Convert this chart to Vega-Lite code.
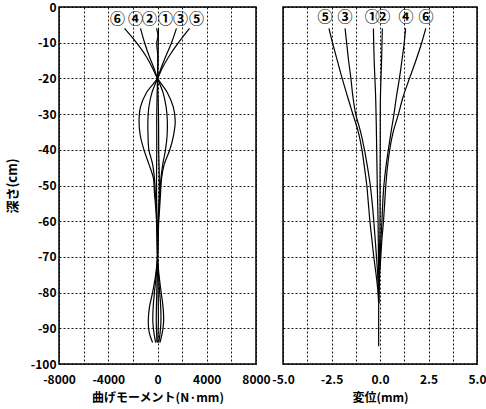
{
"$schema": "https://vega.github.io/schema/vega-lite/v6.json",
"padding": {"left": 5, "top": 0, "right": 0, "bottom": 0},
"background": "white",
"spacing": 27,
"bounds": "flush",
"config": {
  "view": {"stroke": "black", "strokeWidth": 1.5},
  "axis": {"labelFont": "Noto Sans CJK JP", "labelFontWeight": "bold", "labelFontSize": 12, "labelColor": "black",
           "titleFont": "Noto Sans CJK JP", "titleFontWeight": "bold", "titleFontSize": 12, "titleColor": "black",
           "gridColor": "black", "gridDash": [2, 2], "gridWidth": 1, "gridOpacity": 0.9,
           "ticks": false, "domain": false, "labelFlush": false, "labelOverlap": false, "labelBound": false}
},
"datasets": {
  "moment": [
    {"s":"⑥","d":-6,"v":-2680},{"s":"⑥","d":-10,"v":-1710},{"s":"⑥","d":-14,"v":-890},{"s":"⑥","d":-17,"v":-420},{"s":"⑥","d":-20,"v":0},{"s":"⑥","d":-24,"v":800},{"s":"⑥","d":-28,"v":1280},{"s":"⑥","d":-32,"v":1440},{"s":"⑥","d":-36,"v":1300},{"s":"⑥","d":-40,"v":1000},{"s":"⑥","d":-44,"v":550},{"s":"⑥","d":-48,"v":330},{"s":"⑥","d":-52,"v":250},{"s":"⑥","d":-56,"v":180},{"s":"⑥","d":-60,"v":100},{"s":"⑥","d":-65,"v":50},{"s":"⑥","d":-70,"v":0},{"s":"⑥","d":-75,"v":-150},{"s":"⑥","d":-80,"v":-400},{"s":"⑥","d":-84,"v":-650},{"s":"⑥","d":-88,"v":-750},{"s":"⑥","d":-91,"v":-680},{"s":"⑥","d":-94,"v":-400},
    {"s":"⑤","d":-6,"v":2600},{"s":"⑤","d":-10,"v":1700},{"s":"⑤","d":-14,"v":900},{"s":"⑤","d":-17,"v":400},{"s":"⑤","d":-20,"v":0},{"s":"⑤","d":-24,"v":-900},{"s":"⑤","d":-28,"v":-1380},{"s":"⑤","d":-32,"v":-1500},{"s":"⑤","d":-36,"v":-1400},{"s":"⑤","d":-40,"v":-1100},{"s":"⑤","d":-44,"v":-700},{"s":"⑤","d":-48,"v":-330},{"s":"⑤","d":-52,"v":-250},{"s":"⑤","d":-56,"v":-150},{"s":"⑤","d":-60,"v":-80},{"s":"⑤","d":-65,"v":-30},{"s":"⑤","d":-70,"v":0},{"s":"⑤","d":-75,"v":120},{"s":"⑤","d":-80,"v":300},{"s":"⑤","d":-84,"v":450},{"s":"⑤","d":-88,"v":500},{"s":"⑤","d":-91,"v":400},{"s":"⑤","d":-94,"v":200},
    {"s":"④","d":-6,"v":-1380},{"s":"④","d":-10,"v":-1050},{"s":"④","d":-14,"v":-650},{"s":"④","d":-17,"v":-300},{"s":"④","d":-20,"v":0},{"s":"④","d":-24,"v":450},{"s":"④","d":-28,"v":700},{"s":"④","d":-32,"v":800},{"s":"④","d":-36,"v":780},{"s":"④","d":-40,"v":650},{"s":"④","d":-44,"v":430},{"s":"④","d":-48,"v":280},{"s":"④","d":-52,"v":200},{"s":"④","d":-56,"v":120},{"s":"④","d":-60,"v":60},{"s":"④","d":-65,"v":20},{"s":"④","d":-70,"v":0},{"s":"④","d":-75,"v":-100},{"s":"④","d":-80,"v":-250},{"s":"④","d":-84,"v":-350},{"s":"④","d":-88,"v":-380},{"s":"④","d":-91,"v":-300},{"s":"④","d":-94,"v":-150},
    {"s":"③","d":-6,"v":1540},{"s":"③","d":-10,"v":1140},{"s":"③","d":-14,"v":650},{"s":"③","d":-17,"v":300},{"s":"③","d":-20,"v":0},{"s":"③","d":-24,"v":-450},{"s":"③","d":-28,"v":-700},{"s":"③","d":-32,"v":-780},{"s":"③","d":-36,"v":-770},{"s":"③","d":-40,"v":-700},{"s":"③","d":-44,"v":-400},{"s":"③","d":-48,"v":-250},{"s":"③","d":-52,"v":-180},{"s":"③","d":-56,"v":-100},{"s":"③","d":-60,"v":-50},{"s":"③","d":-65,"v":-20},{"s":"③","d":-70,"v":0},{"s":"③","d":-75,"v":80},{"s":"③","d":-80,"v":180},{"s":"③","d":-84,"v":260},{"s":"③","d":-88,"v":280},{"s":"③","d":-91,"v":220},{"s":"③","d":-94,"v":100},
    {"s":"②","d":-6,"v":-80},{"s":"②","d":-8,"v":40},{"s":"②","d":-10,"v":-60},{"s":"②","d":-14,"v":30},{"s":"②","d":-20,"v":0},{"s":"②","d":-30,"v":80},{"s":"②","d":-40,"v":100},{"s":"②","d":-50,"v":150},{"s":"②","d":-60,"v":80},{"s":"②","d":-70,"v":0},{"s":"②","d":-80,"v":-60},{"s":"②","d":-88,"v":-100},{"s":"②","d":-94,"v":-40},
    {"s":"①","d":-6,"v":80},{"s":"①","d":-10,"v":60},{"s":"①","d":-20,"v":0},{"s":"①","d":-30,"v":-60},{"s":"①","d":-40,"v":-60},{"s":"①","d":-50,"v":-80},{"s":"①","d":-60,"v":-40},{"s":"①","d":-70,"v":0},{"s":"①","d":-80,"v":50},{"s":"①","d":-88,"v":70},{"s":"①","d":-94,"v":20}
  ],
  "mlab": [
    {"s":"⑥","d":-3.4,"v":-3250},{"s":"④","d":-3.4,"v":-1790},{"s":"②","d":-3.4,"v":-650},{"s":"①","d":-3.4,"v":650},{"s":"③","d":-3.4,"v":1870},{"s":"⑤","d":-3.4,"v":3170}
  ],
  "disp": [
    {"s":"⑤","d":-6,"v":-2.63},{"s":"⑤","d":-10,"v":-2.45},{"s":"⑤","d":-15,"v":-2.2},{"s":"⑤","d":-20,"v":-1.95},{"s":"⑤","d":-25,"v":-1.68},{"s":"⑤","d":-30,"v":-1.4},{"s":"⑤","d":-35,"v":-1.12},{"s":"⑤","d":-40,"v":-0.93},{"s":"⑤","d":-45,"v":-0.8},{"s":"⑤","d":-50,"v":-0.68},{"s":"⑤","d":-55,"v":-0.6},{"s":"⑤","d":-60,"v":-0.52},{"s":"⑤","d":-65,"v":-0.42},{"s":"⑤","d":-70,"v":-0.32},{"s":"⑤","d":-75,"v":-0.2},{"s":"⑤","d":-80,"v":-0.1},{"s":"⑤","d":-83,"v":-0.07},
    {"s":"③","d":-6,"v":-1.8},{"s":"③","d":-10,"v":-1.72},{"s":"③","d":-15,"v":-1.62},{"s":"③","d":-20,"v":-1.5},{"s":"③","d":-25,"v":-1.4},{"s":"③","d":-30,"v":-1.25},{"s":"③","d":-35,"v":-1.0},{"s":"③","d":-40,"v":-0.8},{"s":"③","d":-45,"v":-0.64},{"s":"③","d":-50,"v":-0.5},{"s":"③","d":-55,"v":-0.4},{"s":"③","d":-60,"v":-0.32},{"s":"③","d":-65,"v":-0.25},{"s":"③","d":-70,"v":-0.18},{"s":"③","d":-75,"v":-0.12},{"s":"③","d":-80,"v":-0.08},{"s":"③","d":-83,"v":-0.07},
    {"s":"①","d":-6,"v":-0.34},{"s":"①","d":-15,"v":-0.3},{"s":"①","d":-26,"v":-0.22},{"s":"①","d":-40,"v":-0.17},{"s":"①","d":-50,"v":-0.14},{"s":"①","d":-60,"v":-0.1},{"s":"①","d":-70,"v":-0.08},{"s":"①","d":-83,"v":-0.07},
    {"s":"②","d":-6,"v":0.12},{"s":"②","d":-15,"v":0.08},{"s":"②","d":-26,"v":0.02},{"s":"②","d":-40,"v":0.01},{"s":"②","d":-50,"v":0.0},{"s":"②","d":-60,"v":0.0},{"s":"②","d":-70,"v":-0.03},{"s":"②","d":-83,"v":-0.07},
    {"s":"④","d":-6,"v":1.32},{"s":"④","d":-10,"v":1.25},{"s":"④","d":-15,"v":1.13},{"s":"④","d":-20,"v":1.0},{"s":"④","d":-25,"v":0.85},{"s":"④","d":-30,"v":0.72},{"s":"④","d":-35,"v":0.57},{"s":"④","d":-40,"v":0.43},{"s":"④","d":-45,"v":0.3},{"s":"④","d":-50,"v":0.2},{"s":"④","d":-55,"v":0.14},{"s":"④","d":-60,"v":0.1},{"s":"④","d":-65,"v":0.05},{"s":"④","d":-70,"v":0.0},{"s":"④","d":-75,"v":-0.04},{"s":"④","d":-80,"v":-0.06},{"s":"④","d":-83,"v":-0.07},
    {"s":"⑥","d":-6,"v":2.36},{"s":"⑥","d":-10,"v":2.15},{"s":"⑥","d":-15,"v":1.85},{"s":"⑥","d":-20,"v":1.52},{"s":"⑥","d":-25,"v":1.2},{"s":"⑥","d":-30,"v":0.95},{"s":"⑥","d":-35,"v":0.68},{"s":"⑥","d":-40,"v":0.5},{"s":"⑥","d":-45,"v":0.38},{"s":"⑥","d":-50,"v":0.3},{"s":"⑥","d":-55,"v":0.24},{"s":"⑥","d":-60,"v":0.18},{"s":"⑥","d":-65,"v":0.1},{"s":"⑥","d":-70,"v":0.04},{"s":"⑥","d":-75,"v":-0.02},{"s":"⑥","d":-80,"v":-0.06},{"s":"⑥","d":-83,"v":-0.07},
    {"s":"base","d":-83,"v":-0.07},{"s":"base","d":-95,"v":-0.07}
  ],
  "dlab": [
    {"s":"⑤","d":-2.8,"v":-2.84},{"s":"③","d":-2.8,"v":-1.8},{"s":"①","d":-2.8,"v":-0.4},{"s":"②","d":-2.8,"v":0.14},{"s":"④","d":-2.8,"v":1.34},{"s":"⑥","d":-2.8,"v":2.37}
  ]
},
"hconcat": [
  {
    "width": 197, "height": 357,
    "layer": [
      {
        "data": {"name": "moment"},
        "mark": {"type": "line", "interpolate": "catmull-rom", "color": "black", "strokeWidth": 1.2},
        "encoding": {
          "x": {"field": "v", "type": "quantitative", "scale": {"domain": [-8000, 8000], "nice": false},
                "axis": {"values": [-8000, -6000, -4000, -2000, 0, 2000, 4000, 6000, 8000], "tickCount": 9,
                         "labelExpr": "datum.value % 4000 === 0 ? '' + datum.value : ''",
                         "title": "曲げモーメント(N·mm)", "labelPadding": 10, "titlePadding": 7}},
          "y": {"field": "d", "type": "quantitative", "scale": {"domain": [-100, 0], "nice": false},
                "axis": {"values": [-100, -90, -80, -70, -60, -50, -40, -30, -20, -10, 0], "tickCount": 11,
                         "labelExpr": "'' + datum.value",
                         "title": "深さ(cm)", "titleFontSize": 13, "labelPadding": 3, "titlePadding": 11}},
          "detail": {"field": "s", "type": "nominal"},
          "order": {"field": "d", "type": "quantitative", "sort": "descending"}
        }
      },
      {
        "data": {"name": "mlab"},
        "mark": {"type": "text", "font": "Noto Sans CJK JP", "fontSize": 15, "fontWeight": "bold", "color": "black"},
        "encoding": {
          "x": {"field": "v", "type": "quantitative"},
          "y": {"field": "d", "type": "quantitative"},
          "text": {"field": "s", "type": "nominal"}
        }
      }
    ]
  },
  {
    "width": 194, "height": 357,
    "layer": [
      {
        "data": {"name": "disp"},
        "mark": {"type": "line", "interpolate": "catmull-rom", "color": "black", "strokeWidth": 1.2},
        "encoding": {
          "x": {"field": "v", "type": "quantitative", "scale": {"domain": [-5, 5], "nice": false},
                "axis": {"values": [-5, -3.75, -2.5, -1.25, 0, 1.25, 2.5, 3.75, 5], "tickCount": 9,
                         "labelExpr": "datum.value % 2.5 === 0 ? (datum.value < 0 ? '-' + format(-datum.value, '.1f') : format(datum.value, '.1f')) : ''",
                         "title": "変位(mm)", "labelPadding": 10, "titlePadding": 7}},
          "y": {"field": "d", "type": "quantitative", "scale": {"domain": [-100, 0], "nice": false},
                "axis": {"values": [-100, -90, -80, -70, -60, -50, -40, -30, -20, -10, 0], "tickCount": 11,
                         "labels": false, "title": null}},
          "detail": {"field": "s", "type": "nominal"},
          "order": {"field": "d", "type": "quantitative", "sort": "descending"}
        }
      },
      {
        "data": {"name": "dlab"},
        "mark": {"type": "text", "font": "Noto Sans CJK JP", "fontSize": 15, "fontWeight": "bold", "color": "black"},
        "encoding": {
          "x": {"field": "v", "type": "quantitative"},
          "y": {"field": "d", "type": "quantitative"},
          "text": {"field": "s", "type": "nominal"}
        }
      }
    ]
  }
]
}
